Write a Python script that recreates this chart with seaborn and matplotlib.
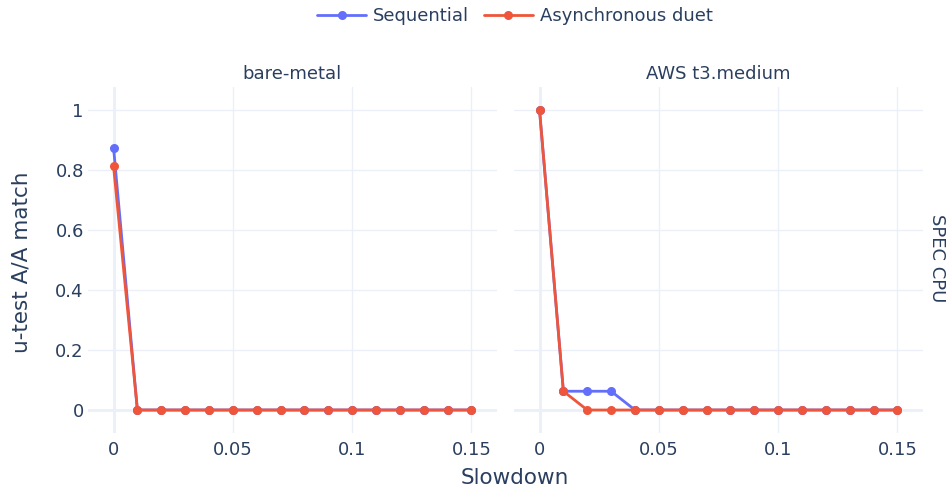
import matplotlib
matplotlib.use("Agg")
import matplotlib.pyplot as plt
import seaborn as sns
import pandas as pd
import numpy as np

slowdown = [0.0, 0.01, 0.02, 0.03, 0.04, 0.05, 0.06, 0.07, 0.08, 0.09, 0.10, 0.11, 0.12, 0.13, 0.14, 0.15]
bare_seq = [0.875, 0, 0, 0, 0, 0, 0, 0, 0, 0, 0, 0, 0, 0, 0, 0]
bare_async = [0.8125, 0, 0, 0, 0, 0, 0, 0, 0, 0, 0, 0, 0, 0, 0, 0]
aws_seq = [1.0, 0.0625, 0.0625, 0.0625, 0, 0, 0, 0, 0, 0, 0, 0, 0, 0, 0, 0]
aws_async = [1.0, 0.0625, 0, 0, 0, 0, 0, 0, 0, 0, 0, 0, 0, 0, 0, 0]
panels = ["bare-metal", "AWS t3.medium"]
series = ["Sequential", "Asynchronous duet"]
row_label = "SPEC CPU"
x_ticks = [0, 0.05, 0.1, 0.15]
x_ticklabels = ["0", "0.05", "0.1", "0.15"]
y_ticks = [0, 0.2, 0.4, 0.6, 0.8, 1.0]
y_ticklabels = ["0", "0.2", "0.4", "0.6", "0.8", "1"]

rows = []
for panel, seqv, asyv in [(panels[0], bare_seq, bare_async), (panels[1], aws_seq, aws_async)]:
    for s, vals in [(series[0], seqv), (series[1], asyv)]:
        for x, y in zip(slowdown, vals):
            rows.append({"panel": panel, "series": s, "Slowdown": x, "match": y})
df = pd.DataFrame(rows)

sns.set_theme(style="white")
plt.rcParams['font.family'] = ['DejaVu Sans']
TXT = "#2a3f5f"
GRID = "#EBF0F8"
palette = {series[0]: "#636EFA", series[1]: "#EF553B"}

W, H = 950, 493
fig = plt.figure(figsize=(W / 100, H / 100), dpi=100)

def fr(x0, y0, x1, y1):
    return [x0 / W, 1 - y1 / H, (x1 - x0) / W, (y1 - y0) / H]

axes = [fig.add_axes(fr(88, 87, 497, 433)), fig.add_axes(fr(514, 87, 923, 433))]

for i, (ax, panel) in enumerate(zip(axes, panels)):
    sub = df[df["panel"] == panel]
    for s in series:
        d = sub[sub["series"] == s]
        sns.lineplot(data=d, x="Slowdown", y="match", ax=ax, color=palette[s],
                     marker="o", markersize=6.5, markeredgewidth=0, linewidth=2.0,
                     legend=False, zorder=3 if s == series[1] else 2)
    ax.set_xlim(-0.0107, 0.1607)
    ax.set_ylim(-0.0767, 1.0767)
    ax.set_xticks(x_ticks)
    ax.set_yticks(y_ticks)
    ax.set_xticklabels(x_ticklabels)
    if i == 0:
        ax.set_yticklabels(y_ticklabels)
    else:
        ax.set_yticklabels([])
    ax.tick_params(axis="both", length=0, labelsize=13, colors=TXT)
    ax.tick_params(axis="x", pad=6)
    ax.tick_params(axis="y", pad=3)
    ax.grid(True, color=GRID, linewidth=1.0, zorder=0)
    ax.axhline(0, color=GRID, linewidth=2.0, zorder=1)
    ax.axvline(0, color=GRID, linewidth=2.0, zorder=1)
    ax.set_axisbelow(True)
    for sp in ax.spines.values():
        sp.set_visible(False)
    ax.set_xlabel("")
    ax.set_ylabel("")
    ax.set_title(panel, fontsize=13, color=TXT, pad=6)

fig.text(515 / W, 1 - 478 / H, "Slowdown", ha="center", va="center", fontsize=15.5, color=TXT)
fig.text(22 / W, 1 - 262 / H, "u-test A/A match", ha="center", va="center", rotation=90,
         fontsize=15.5, color=TXT)
fig.text(937 / W, 1 - 258 / H, row_label, ha="center", va="center", rotation=270,
         fontsize=13, color=TXT)

from matplotlib.lines import Line2D
handles = [Line2D([0], [0], color=palette[s], linewidth=2.0, marker="o", markersize=6.5,
                  markeredgewidth=0) for s in series]
fig.legend(handles, series, loc="center", bbox_to_anchor=(515 / W, 1 - 16 / H), ncol=2,
           frameon=False, fontsize=13, labelcolor=TXT, handlelength=2.7, columnspacing=0.8,
           handletextpad=0.4)

fig.savefig("out.png", dpi=100, facecolor="white")
